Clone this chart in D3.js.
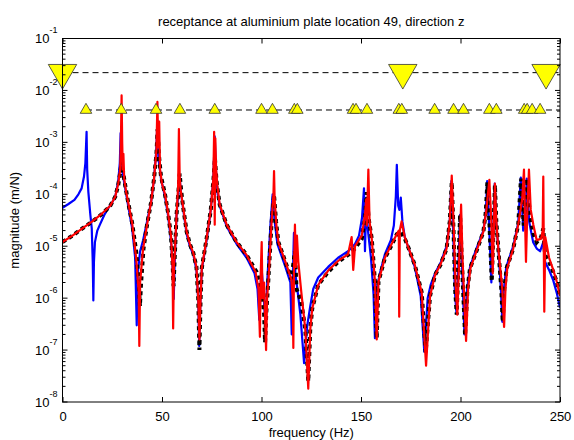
<!DOCTYPE html>
<html>
<head>
<meta charset="utf-8">
<script src="https://cdn.jsdelivr.net/npm/d3@7"></script>
<style>
  body { margin: 0; background: #fff; }
  text { font-family: "Liberation Sans", Arial, Helvetica, sans-serif; }
</style>
</head>
<body>
<div id="chart"></div>
<script>
// measured receptance (blue), estimate (red), model (black dashed): [Hz, m/N]
var blueData = [[0,5.5e-5],[3,6.5e-5],[6,7.8e-5],[8,1e-4],[9.6,1.3e-4],[10.8,2.2e-4],[11.5,4e-4],[12.1,1.6e-3],[12.4,3e-4],[13,1.1e-4],[14,4e-5],[14.7,2.2e-5],[15.2,5e-6],[15.5,9e-7],[15.8,5e-6],[16.3,1.2e-5],[17.5,2e-5],[18.8,2.6e-5],[21,4e-5],[23,5.4e-5],[25,7e-5],[26.5,9e-5],[28,1.8e-4],[28.8,4e-4],[29.2,1.5e-3],[29.6,4e-4],[30.5,2.2e-4],[31.5,1.3e-4],[33,6e-5],[35,2.2e-5],[36.5,6e-6],[37.3,3e-7],[37.8,3e-6],[39,8e-6],[40.5,1.3e-5],[42.5,3e-5],[44.5,7e-5],[46,2e-4],[47,6e-4],[47.6,2e-3],[48.2,5e-4],[49.5,2e-4],[51.5,9e-5],[53,4e-5],[54.5,1.3e-5],[55.5,3e-6],[55.9,9.6e-7],[56.3,4e-6],[57.3,4e-5],[58.3,1.2e-4],[58.8,2.2e-4],[59.5,1.1e-4],[60.7,5e-5],[62.4,1.7e-5],[64,1e-5],[65.7,7e-6],[67.3,3.5e-6],[68.2,9e-7],[68.7,1.2e-7],[69.3,9e-7],[70,3.5e-6],[72.4,1.3e-5],[74.5,5e-5],[75.8,2e-4],[76.5,1.3e-3],[77.2,2.5e-4],[78,1e-4],[79,6e-5],[82.5,2.4e-5],[87.5,1.1e-5],[92.5,6e-6],[96.5,3e-6],[98,1.5e-6],[98.9,3.8e-7],[100,4e-6],[101,1.2e-6],[102,3e-7],[103,2.5e-6],[104.5,2.6e-5],[105.6,1e-4],[106.6,3e-5],[108,1.1e-5],[112,4e-6],[114.5,2e-6],[115.2,2e-7],[115.8,3e-6],[116.3,1.8e-5],[117,3e-6],[118,1.5e-6],[119.5,5e-7],[121.4,5.6e-8],[123,3e-7],[124.5,7e-7],[126,1.5e-6],[128.5,2.5e-6],[133.5,4e-6],[138.5,6e-6],[143.5,8e-6],[147,1.1e-5],[149,1.6e-5],[150.5,3.5e-5],[151.5,1.3e-4],[152,8e-6],[152.6,6e-5],[153.5,2e-5],[155,6e-6],[156.3,1.2e-6],[157,1.7e-7],[157.8,1.5e-6],[159.5,3e-6],[162,7e-6],[165,1.3e-5],[166.5,2.5e-5],[167.5,9e-5],[168,3.7e-4],[168.7,6e-5],[169.3,5e-5],[170,8.6e-5],[170.8,3e-5],[172,1.5e-5],[174,9e-6],[177,4e-6],[180,1.1e-6],[181.8,9.3e-8],[183.5,1e-6],[185,1.8e-6],[187.2,3e-6],[190,4.8e-6],[193,1e-5],[194.6,3e-5],[195.4,1.8e-4],[196.3,2e-5],[197.2,1.3e-6],[198,5e-7],[199,5e-6],[199.8,4e-5],[200.7,5e-6],[202,2e-7],[203.3,1.5e-6],[204.8,4e-6],[208,9e-6],[211.5,2e-5],[212.7,4.5e-5],[213.4,1.8e-4],[214.3,3e-5],[215.5,2e-6],[216.6,3e-5],[217.2,1.6e-4],[217.9,3e-5],[219,9e-6],[220.3,1.5e-6],[221,3.5e-7],[221.8,1.5e-6],[223,4e-6],[226.5,1e-5],[229,2.8e-5],[230.3,2.1e-4],[231.5,2e-5],[232.5,2.5e-5],[233.3,2e-4],[234.5,3e-5],[236.5,1.2e-5],[238.3,9e-6],[240,8e-6],[241.6,1.2e-5],[242.5,5e-6],[244.5,3.5e-6],[246.6,2.2e-6],[248.5,1.2e-6],[250,6.5e-7]];

var blackData = [[0,1.2e-5],[5,1.6e-5],[10,2.2e-5],[15,3e-5],[20,4.2e-5],[24,6e-5],[26.5,9e-5],[28,1.5e-4],[29,2.6e-4],[29.7,4.2e-4],[30.5,2.6e-4],[31.5,1.5e-4],[33,7e-5],[35,2.8e-5],[37,8e-6],[38.3,2e-6],[38.9,7e-7],[39.5,2e-6],[40.7,9e-6],[42.5,2.6e-5],[44.5,7e-5],[46,2e-4],[47.2,6e-4],[47.8,1.8e-3],[48.4,6e-4],[49.5,2.2e-4],[51.5,1e-4],[53,4.5e-5],[54.5,1.6e-5],[55.3,5e-6],[55.8,1.7e-6],[56.3,5e-6],[57.3,4e-5],[58.3,1.2e-4],[58.9,2.5e-4],[59.6,1.2e-4],[60.7,5.4e-5],[62.4,1.9e-5],[64,1.1e-5],[65.7,7.5e-6],[67.3,4e-6],[68.2,1e-6],[68.8,1e-7],[69.4,1e-6],[70,3.8e-6],[72.4,1.4e-5],[74.5,5e-5],[75.8,1.8e-4],[76.6,5e-4],[77.4,1.8e-4],[79,6.3e-5],[82.5,2.6e-5],[87.5,1.2e-5],[92.5,6.8e-6],[97.5,3.2e-6],[100,1.5e-6],[101.3,5e-7],[101.8,1.4e-7],[102.4,5e-7],[103.4,2.1e-6],[105,2.6e-5],[106.3,9.8e-5],[107.3,3e-5],[108.5,1.2e-5],[112.5,4.4e-6],[115,2.3e-6],[116.8,8e-6],[117.6,1.5e-6],[120,8.5e-7],[122,2.5e-7],[123.5,2.5e-8],[124.5,2.5e-7],[125.5,6.3e-7],[128.5,1.8e-6],[133.5,3.2e-6],[138.5,5e-6],[143.5,6.8e-6],[147,9e-6],[150.4,1.4e-5],[152,3.5e-5],[152.9,1.1e-4],[153.8,3.5e-5],[155.4,1.4e-5],[157,2.1e-6],[157.9,1.7e-7],[158.8,2.1e-6],[162,5.9e-6],[165.4,1.05e-5],[168,1.7e-5],[170,1.9e-5],[172,1.4e-5],[174,9e-6],[177,4.4e-6],[180.5,1.3e-6],[182.5,9e-8],[184.7,1.1e-6],[187.2,2.8e-6],[190,4.4e-6],[193,9e-6],[194.6,3e-5],[195.6,1.7e-4],[196.5,2e-5],[197.3,1.5e-6],[198.1,4.8e-7],[199,5e-6],[199.8,4e-5],[200.7,5e-6],[202.3,1.9e-7],[203.5,1.5e-6],[204.8,3.8e-6],[208,8e-6],[211.5,1.9e-5],[212.7,4.5e-5],[213.5,1.7e-4],[214.5,3e-5],[215.7,2.1e-6],[216.7,3e-5],[217.3,1.5e-4],[218,3e-5],[219,9e-6],[220.5,1.5e-6],[221.2,3.5e-7],[222,1.5e-6],[223.2,3.8e-6],[226.5,9e-6],[229,2.6e-5],[230.4,2e-4],[231.8,2.5e-5],[233.3,2e-4],[234.9,4e-5],[236.5,1.8e-5],[238.3,1.2e-5],[240.5,1.5e-5],[241.6,2.2e-5],[242.5,6.8e-6],[244.5,5e-6],[246.6,3.2e-6],[248.5,2e-6],[250,1.1e-6]];

var redData = [[0,1.2e-5],[5,1.6e-5],[10,2.2e-5],[15,3e-5],[20,4.3e-5],[24,6e-5],[26.5,9e-5],[28,1.6e-4],[29,3e-4],[29.4,1.5e-3],[29.7,8e-3],[30,1e-3],[30.3,3e-4],[30.6,6e-4],[31,2e-4],[32,1.1e-4],[33,7e-5],[35,2.8e-5],[37,6e-6],[38.3,1.3e-6],[38.6,1.2e-7],[39,2e-6],[40.5,9e-6],[42.5,2.6e-5],[44.5,7e-5],[46,2e-4],[47.2,7e-4],[47.7,6e-3],[48.1,8e-4],[48.6,2.5e-3],[49,3e-4],[50,1.6e-4],[51.5,1e-4],[53,4.5e-5],[54.5,1.6e-5],[55.3,4e-6],[55.6,2.6e-7],[56,4e-6],[56.5,8e-6],[57.3,4e-5],[58.1,1.4e-4],[58.5,1.8e-3],[58.9,2e-4],[59.4,1.2e-4],[60.7,5.4e-5],[62.4,1.9e-5],[64,1.1e-5],[65.7,7.5e-6],[67.3,4e-6],[68.2,1e-6],[68.8,1.6e-7],[69.4,1e-6],[70,3.8e-6],[72.4,1.4e-5],[74.5,5e-5],[75.8,2e-4],[76.2,1.6e-3],[76.5,2.6e-5],[76.8,1.2e-3],[77.2,3e-4],[77.8,1.5e-4],[79,6.3e-5],[82.5,2.6e-5],[87.5,1.2e-5],[92.5,6.8e-6],[97,3.2e-6],[98.5,1.5e-6],[99.2,1.8e-7],[99.6,3e-6],[100.1,1.2e-5],[100.5,1e-6],[101.3,2e-6],[102.3,1e-7],[102.8,1e-6],[103.6,2.5e-6],[105,2.6e-5],[106,1e-4],[106.3,2.8e-4],[106.6,8e-5],[107.5,2.5e-5],[108.5,1.2e-5],[112.5,4.4e-6],[115,2.3e-6],[115.7,1e-6],[116,1.1e-7],[116.3,3e-6],[116.8,2.6e-5],[117.3,4e-6],[117.8,1.6e-5],[118.5,5e-6],[120,1.3e-6],[122,2.5e-7],[123.5,1.8e-8],[124.5,2.5e-7],[125.5,6.3e-7],[128.5,1.8e-6],[133.5,3.4e-6],[138.5,5.2e-6],[143.5,7e-6],[145.3,1.5e-5],[146.1,3.5e-6],[147,1e-5],[150.4,1.6e-5],[152,4e-5],[152.6,8e-5],[152.9,2.5e-5],[153.7,3e-4],[154.3,3e-5],[155.4,1.4e-5],[157,2.1e-6],[157.9,1.6e-7],[158.8,2.1e-6],[162,6e-6],[165.4,1.1e-5],[168,1.7e-5],[169,2e-5],[169.2,4.4e-7],[169.5,2e-5],[170.4,3e-5],[172,1.5e-5],[174,9e-6],[177,4.4e-6],[180.5,1.3e-6],[182.7,5e-8],[184.7,1.1e-6],[187.2,2.8e-6],[190,4.5e-6],[193,9e-6],[194.6,3e-5],[195.6,2.3e-4],[196.5,3e-5],[197.5,2e-6],[198.4,4.8e-7],[199.3,5e-6],[200.3,6.3e-5],[201,6e-6],[202.8,1.5e-7],[203.8,1.5e-6],[205,3.8e-6],[208,8e-6],[211.5,1.9e-5],[213,5e-5],[214.5,1.9e-4],[215.5,3e-5],[216.2,3e-6],[217.3,1.6e-4],[218,3e-5],[219,9e-6],[221,1.5e-6],[221.9,2.8e-7],[222.6,1.5e-6],[223.5,3.8e-6],[226.5,9e-6],[229,2.6e-5],[231,8e-5],[231.9,3e-4],[232.9,5e-6],[233.6,5e-5],[234.4,3e-4],[235.3,5e-5],[236.6,2.6e-5],[238.3,1.3e-5],[240.5,1.4e-5],[241.3,2e-5],[241.6,2.2e-4],[242.1,5.5e-7],[242.6,1.5e-5],[244.5,6e-6],[246.6,3.5e-6],[248.5,2e-6],[250,1.1e-6]];

// mode markers
var bigModes = [0, 171, 243];
var bigLevel = 0.022;
var smallModes = [11.8, 29.5, 47, 59, 76.5, 100, 105.5, 116.5, 118, 146, 147.5, 153, 169, 170.5, 187, 196.5, 201.5, 214.5, 218, 232, 233.5, 236, 240];
var smallLevel = 0.0042;

var xTicks = [0, 50, 100, 150, 200, 250];
var yDecades = [-8, -7, -6, -5, -4, -3, -2, -1];

var svgWidth = 574, svgHeight = 440;
var padL = 62.5, padR = 560, padT = 38.5, padB = 402;

var svg = d3.select("#chart").append("svg")
  .attr("width", svgWidth)
  .attr("height", svgHeight);

var x = d3.scaleLinear().domain([0, 250]).range([padL, padR]);
var y = d3.scaleLog().domain([1e-8, 1e-1]).range([padB, padT]);

svg.append("defs").append("clipPath").attr("id", "clip")
  .append("rect")
  .attr("x", padL).attr("y", padT)
  .attr("width", padR - padL).attr("height", padB - padT);

var line = d3.line()
  .x(d => x(d[0]))
  .y(d => y(d[1]));

var plot = svg.append("g").attr("clip-path", "url(#clip)");

plot.append("path").datum(blueData)
  .attr("fill", "none").attr("stroke", "#0000ff")
  .attr("stroke-width", 2.2).attr("stroke-linejoin", "round")
  .attr("d", line);

plot.append("path").datum(blackData)
  .attr("fill", "none").attr("stroke", "#000")
  .attr("stroke-width", 4).attr("stroke-dasharray", "4,3.5")
  .attr("d", line);

plot.append("path").datum(redData)
  .attr("fill", "none").attr("stroke", "#ff0000")
  .attr("stroke-width", 2.2).attr("stroke-linejoin", "round")
  .attr("d", line);

// dashed marker lines
svg.append("line")
  .attr("x1", x(0)).attr("x2", x(250))
  .attr("y1", y(bigLevel)).attr("y2", y(bigLevel))
  .attr("stroke", "#000").attr("stroke-width", 1)
  .attr("stroke-dasharray", "6,4");

svg.append("line")
  .attr("x1", x(smallModes[0])).attr("x2", x(250))
  .attr("y1", y(smallLevel)).attr("y2", y(smallLevel))
  .attr("stroke", "#000").attr("stroke-width", 1)
  .attr("stroke-dasharray", "6,4");

var bigTri = d3.symbol().type(d3.symbolTriangle).size(350);
var smallTri = d3.symbol().type(d3.symbolTriangle).size(58);

svg.selectAll(".small")
  .data(smallModes)
  .join("path")
  .attr("class", "small")
  .attr("d", smallTri)
  .attr("transform", d => `translate(${x(d)},${y(smallLevel)})`)
  .attr("fill", "#ffff00")
  .attr("stroke", "#333")
  .attr("stroke-width", 0.8);

svg.selectAll(".big")
  .data(bigModes)
  .join("path")
  .attr("class", "big")
  .attr("d", bigTri)
  .attr("transform", d => `translate(${x(d)},${y(bigLevel)}) rotate(180)`)
  .attr("fill", "#ffff00")
  .attr("stroke", "#333")
  .attr("stroke-width", 0.8);

// axes box
svg.append("rect")
  .attr("x", padL).attr("y", padT)
  .attr("width", padR - padL).attr("height", padB - padT)
  .attr("fill", "none").attr("stroke", "#000").attr("stroke-width", 1);

// x ticks
svg.append("g")
  .attr("transform", `translate(0,${padB})`)
  .call(d3.axisBottom(x).tickValues(xTicks).tickSize(-5).tickPadding(10).tickSizeOuter(0))
  .call(g => g.select(".domain").remove())
  .selectAll("text")
  .style("font-size", "13px")
  .style("font-family", "Liberation Sans, Arial, sans-serif")
  .attr("fill", "#000");

svg.append("g")
  .attr("transform", `translate(0,${padT})`)
  .call(d3.axisTop(x).tickValues(xTicks).tickSize(-5).tickFormat("").tickSizeOuter(0))
  .call(g => g.select(".domain").remove());

// y ticks, major and minor
var minor = [];
yDecades.forEach(function (e) {
  if (e >= -1) return;
  for (var k = 2; k <= 9; k++) minor.push(k * Math.pow(10, e));
});
var major = yDecades.map(e => Math.pow(10, e));

[[padL, 1], [padR, -1]].forEach(function (side) {
  var g = svg.append("g");
  g.selectAll(".maj").data(major).join("line")
    .attr("x1", side[0]).attr("x2", side[0] + side[1] * 5)
    .attr("y1", d => y(d)).attr("y2", d => y(d))
    .attr("stroke", "#000");
  g.selectAll(".min").data(minor).join("line")
    .attr("x1", side[0]).attr("x2", side[0] + side[1] * 3)
    .attr("y1", d => y(d)).attr("y2", d => y(d))
    .attr("stroke", "#000");
});

var yLab = svg.append("g");
yDecades.forEach(function (e) {
  var t = yLab.append("text")
    .attr("x", padL - 5)
    .attr("y", y(Math.pow(10, e)) + 4.5)
    .attr("text-anchor", "end")
    .style("font-size", "13px");
  t.append("tspan").text("10");
  t.append("tspan").attr("dy", -10).style("font-size", "9px").text(String(e));
});

svg.append("text")
  .attr("x", (padL + padR) / 2)
  .attr("y", 26)
  .attr("text-anchor", "middle")
  .style("font-size", "13px")
  .text("receptance at aluminium plate location 49, direction z");

svg.append("text")
  .attr("x", (padL + padR) / 2)
  .attr("y", 437)
  .attr("text-anchor", "middle")
  .style("font-size", "13px")
  .text("frequency (Hz)");

svg.append("text")
  .attr("transform", `translate(19,${(padT + padB) / 2}) rotate(-90)`)
  .attr("text-anchor", "middle")
  .style("font-size", "13px")
  .text("magnitude (m/N)");
</script>
</body>
</html>
